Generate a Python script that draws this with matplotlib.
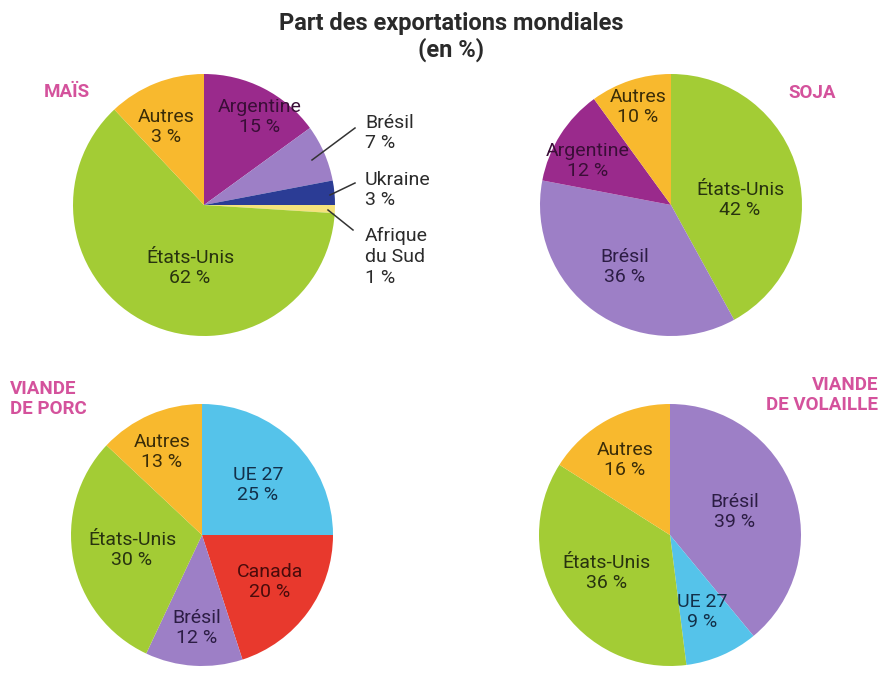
import matplotlib
matplotlib.use("Agg")
import matplotlib.pyplot as plt

plt.rcParams['font.family'] = ['Roboto', 'DejaVu Sans']

W, H = 889, 685

# ---------------- data ----------------
title = "Part des exportations mondiales\n(en %)"

mais_names = ["Argentine", "Brésil", "Ukraine", "Afrique\ndu Sud", "États-Unis", "Autres"]
mais_shares = [15, 7, 3, 1, 62, 12]          # slice sizes as drawn
mais_printed = [15, 7, 3, 1, 62, 3]          # figures printed on the chart

soja_names = ["États-Unis", "Brésil", "Argentine", "Autres"]
soja_shares = [42, 36, 12, 10]

porc_names = ["UE 27", "Canada", "Brésil", "États-Unis", "Autres"]
porc_shares = [25, 20, 12, 30, 13]

volaille_names = ["Brésil", "UE 27", "États-Unis", "Autres"]
volaille_shares = [39, 9, 36, 16]

# ---------------- styles ----------------
GREEN = "#a3cc35"
YELLOW = "#f8b92e"
DPURPLE = "#9a2a8c"
LPURPLE = "#9d7fc6"
DBLUE = "#2b3c95"
LBLUE = "#55c3ea"
RED = "#e8392d"
PALEY = "#f5e27c"
PINK = "#d4529c"

txt_col = {GREEN: "#28330f", YELLOW: "#3b2d08", DPURPLE: "#3a0e37",
           LPURPLE: "#2c1d44", LBLUE: "#13304a", RED: "#4a0b0b"}

colors = {
    "Argentine": DPURPLE, "Brésil": LPURPLE, "Ukraine": DBLUE,
    "Afrique\ndu Sud": PALEY, "États-Unis": GREEN, "Autres": YELLOW,
    "UE 27": LBLUE, "Canada": RED,
}

fig = plt.figure(figsize=(W / 100, H / 100), dpi=100)
ax = fig.add_axes([0, 0, 1, 1])
ax.set_xlim(0, W)
ax.set_ylim(0, H)
ax.set_aspect("equal")
ax.axis("off")

R = 131
FS = 14
LS = 1.2


def Y(y):
    return H - y


def draw_pie(names, shares, cx, cy):
    ax.pie(shares, colors=[colors[n] for n in names], startangle=90,
           counterclock=False, center=(cx, Y(cy)), radius=R,
           wedgeprops=dict(linewidth=0), frame=True)


def label(x, y, name, val, col, ha="center"):
    ax.text(x, Y(y), f"{name}\n{val} %", ha=ha, va="center", fontsize=FS,
            color=col, linespacing=LS)


# Title
ax.text(451, Y(37), title, ha="center", va="center", fontsize=17,
        fontweight="bold", color="#2a2a2a", linespacing=1.12)

# ---- Maïs ----
draw_pie(mais_names, mais_shares, 204, 205)
ax.text(67, Y(92), "MAÏS", ha="center", va="center", fontsize=13.5,
        fontweight="bold", color=PINK)
label(166, 127, "Autres", mais_printed[5], txt_col[YELLOW])
label(260, 117, "Argentine", mais_printed[0], txt_col[DPURPLE])
label(190, 268, "États-Unis", mais_printed[4], txt_col[GREEN])
outer = "#2b2b2b"
label(365, 133, "Brésil", mais_printed[1], outer, ha="left")
label(365, 190, "Ukraine", mais_printed[2], outer, ha="left")
ax.text(365, Y(257), f"Afrique\ndu Sud\n{mais_printed[3]} %", ha="left",
        va="center", fontsize=FS, color=outer, linespacing=LS)
ax.plot([355, 312], [Y(128), Y(160)], color="#333333", lw=1.1)
ax.plot([355, 330], [Y(183), Y(195)], color="#333333", lw=1.1)
ax.plot([353, 328], [Y(230), Y(210)], color="#333333", lw=1.1)

# ---- Soja ----
draw_pie(soja_names, soja_shares, 671, 205)
ax.text(812, Y(93), "SOJA", ha="center", va="center", fontsize=13.5,
        fontweight="bold", color=PINK)
label(638, 107, "Autres", 10, txt_col[YELLOW])
label(588, 161, "Argentine", 12, txt_col[DPURPLE])
label(740, 200, "États-Unis", 42, txt_col[GREEN])
label(625, 267, "Brésil", 36, txt_col[LPURPLE])

# ---- Viande de porc ----
draw_pie(porc_names, porc_shares, 202, 535)
ax.text(10, Y(399), "VIANDE\nDE PORC", ha="left", va="center", fontsize=13.5,
        fontweight="bold", color=PINK, linespacing=1.2)
label(162, 452, "Autres", 13, txt_col[YELLOW])
label(258, 485, "UE 27", 25, txt_col[LBLUE])
label(132, 550, "États-Unis", 30, txt_col[GREEN])
label(270, 582, "Canada", 20, txt_col[RED])
label(197, 628, "Brésil", 12, txt_col[LPURPLE])

# ---- Viande de volaille ----
draw_pie(volaille_names, volaille_shares, 670, 535)
ax.text(878, Y(395), "VIANDE\nDE VOLAILLE", ha="right", va="center",
        fontsize=13.5, fontweight="bold", color=PINK, linespacing=1.2)
label(625, 460, "Autres", 16, txt_col[YELLOW])
label(735, 512, "Brésil", 39, txt_col[LPURPLE])
label(607, 573, "États-Unis", 36, txt_col[GREEN])
label(702, 612, "UE 27", 9, txt_col[LBLUE])

ax.set_xlim(0, W)
ax.set_ylim(0, H)
ax.axis("off")

fig.savefig("out.png", dpi=100, facecolor="white")
